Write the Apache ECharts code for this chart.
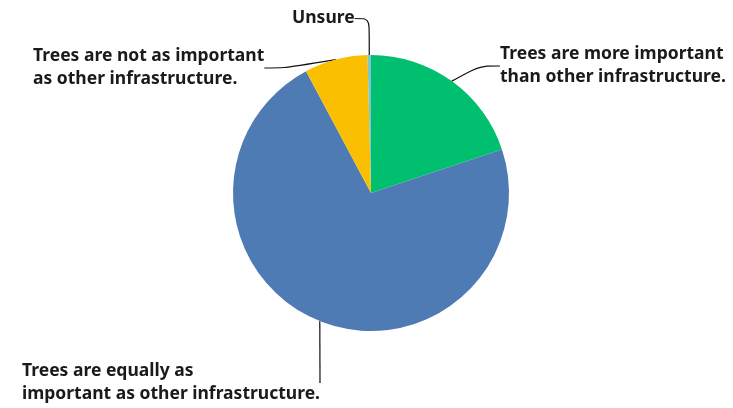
<!DOCTYPE html>
<html>
<head>
<meta charset="utf-8">
<script src="https://cdn.jsdelivr.net/npm/echarts@6/dist/echarts.min.js"></script>
<style>
  html, body { margin: 0; padding: 0; background: #ffffff; }
  #main { width: 733px; height: 408px; }
</style>
</head>
<body>
<div id="main"></div>
<script>
// answers, clockwise from 12 o'clock
var categories = [
  "Trees are more important\nthan other infrastructure.",
  "Trees are equally as\nimportant as other infrastructure.",
  "Trees are not as important\nas other infrastructure.",
  "Unsure"
];
var values = [19.9, 72.3, 7.4, 0.4];
var colors = ["#00c06f", "#4f7bb5", "#f9bf00", "#7cc6cc"];

// where each label block sits (top-left corner)
var labelSpots = [
  { x: 500, y: 43 },
  { x: 22, y: 360 },
  { x: 33, y: 45 },
  { x: 292, y: 7 }
];

var myChart = echarts.init(document.getElementById("main"));

var option = {
  animation: false,
  series: [
    {
      type: "pie",
      center: [371, 193],
      radius: 138,
      startAngle: 90,
      clockwise: true,
      avoidLabelOverlap: false,
      itemStyle: { borderWidth: 0 },
      label: {
        show: true,
        position: "outside",
        formatter: "{b}",
        color: "#1a1a1a",
        fontFamily: "Noto Sans",
        fontWeight: "bold",
        fontSize: 17.5,
        lineHeight: 23,
        align: "left"
      },
      labelLine: {
        show: true,
        smooth: 0.3,
        length: 20,
        length2: 20,
        lineStyle: { color: "#111111", width: 1.2 }
      },
      labelLayout: function (params) {
        var s = labelSpots[params.dataIndex];
        return { x: s.x, y: s.y, align: "left", verticalAlign: "top" };
      },
      data: categories.map(function (name, i) {
        return { name: name, value: values[i], itemStyle: { color: colors[i] } };
      })
    }
  ]
};

myChart.setOption(option);
</script>
</body>
</html>
